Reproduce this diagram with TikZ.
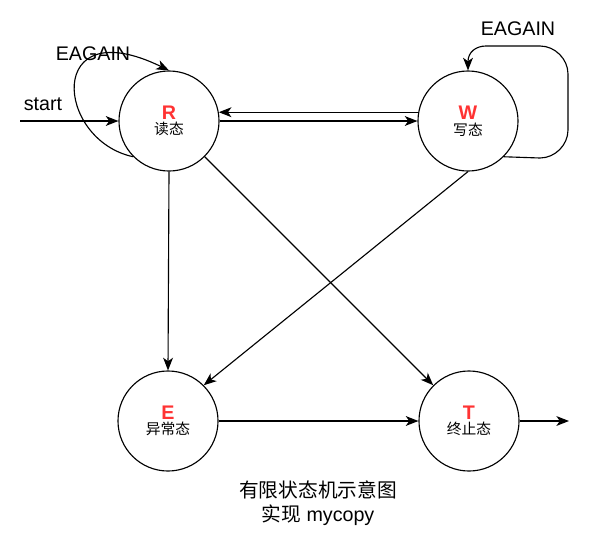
\documentclass[tikz,border=0pt]{standalone}
\usepackage{fontspec}
\setmainfont{Liberation Sans}
\newfontfamily\cjk{Noto Sans CJK SC}
\usetikzlibrary{arrows.meta}
\definecolor{statered}{HTML}{FF3333}
\tikzset{
  state/.style={draw, circle, line width=0.8pt, minimum size=2.5cm, inner sep=0pt, align=center},
  edge/.style={line width=0.8pt, -{Stealth[length=9pt, width=7pt, inset=2.5pt]}},
  lbl/.style={font=\fontsize{14pt}{17pt}\selectfont, inner sep=0pt}
}
\newcommand{\statetext}[2]{{\fontsize{14pt}{15pt}\selectfont\bfseries\color{statered}#1}\\[-1pt]{\cjk\fontsize{10.5pt}{12pt}\selectfont #2}}
\begin{document}
\begin{tikzpicture}[x=0.025cm, y=-0.025cm]
\useasboundingbox (0, 0) rectangle (600, 534);

\node (R) at (169, 121) [state] {\statetext{R}{读态}};
\node (W) at (468, 121) [state] {\statetext{W}{写态}};
\node (E) at (168, 421) [state] {\statetext{E}{异常态}};
\node (T) at (469, 421) [state] {\statetext{T}{终止态}};

\coordinate (in) at (20, 121);
\coordinate (out) at (569, 421);

\node (start) at (43, 110) [lbl, anchor=base] {start};
\node (againR) at (93, 60) [lbl, anchor=base] {EAGAIN};
\node (againW) at (518, 35) [lbl, anchor=base] {EAGAIN};

% transitions
\draw [edge] (in) -- (R.west);
\draw [edge] (R.east) -- (W.west);
\draw [edge] (W.170) -- (R.10);
\draw [edge] (R.south) -- (E.north);
\draw [edge] (R.-45) -- (T.135);
\draw [edge] (W.south) -- (E.45);
\draw [edge] (E.east) -- (T.west);
\draw [edge] (T.east) -- (out);

% self loops
\draw [edge] (R.225) .. controls (55, 140) and (45, 10) .. (R.north);
\draw [edge] (W.-45) -- (540, 158) .. controls (555, 158) and (568, 145) .. (568, 130) -- (568, 74)
  .. controls (568, 59) and (555, 46) .. (540, 46) -- (486, 46) .. controls (476, 46) and (468, 52) .. (W.north);

\node (caption) at (318, 503) [lbl, align=center] {{\cjk 有限状态机示意图}\\{\cjk 实现} mycopy};
\end{tikzpicture}
\end{document}
